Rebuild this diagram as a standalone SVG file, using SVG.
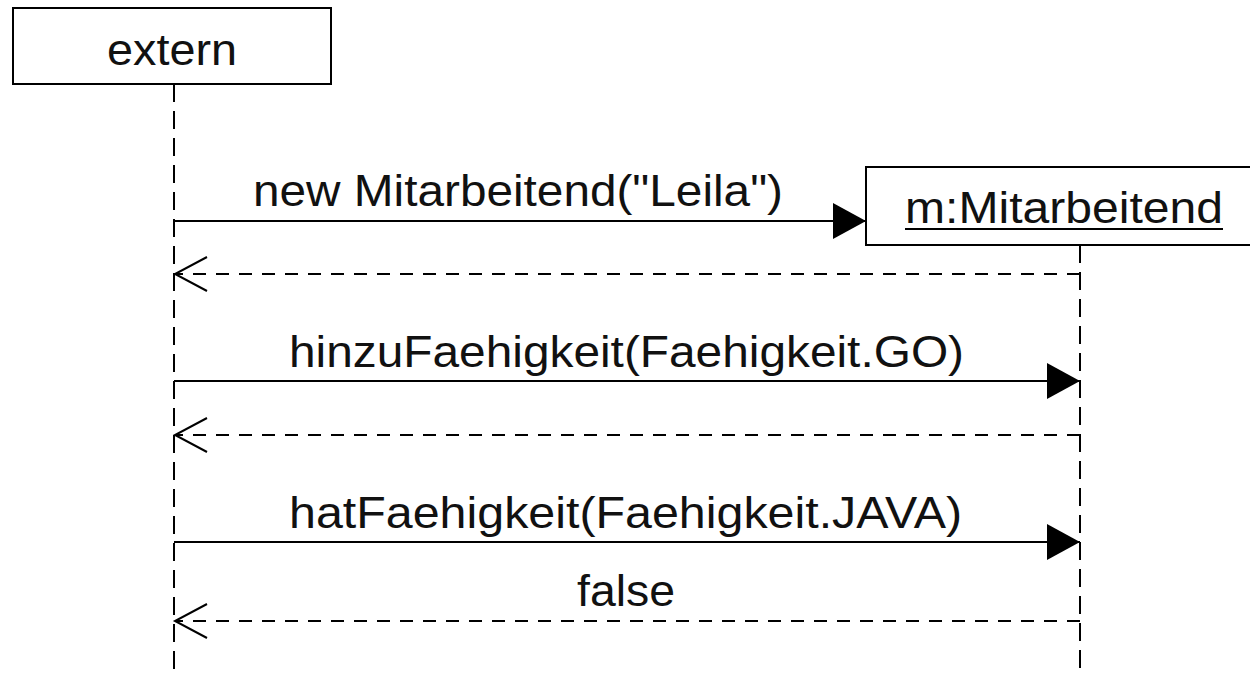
<svg xmlns="http://www.w3.org/2000/svg" width="1250" height="673" viewBox="0 0 1250 673">
<style>
.box{fill:#fff;stroke:#000;stroke-width:2}
.life{stroke:#000;stroke-width:2;stroke-dasharray:18 9;fill:none}
.msg{stroke:#000;stroke-width:2;fill:none}
.ret{stroke:#000;stroke-width:2;stroke-dasharray:13 10;fill:none}
.t{font-family:"Liberation Sans",Arial,sans-serif;font-size:44px;fill:#111}
</style>
<defs>
<marker id="filled" markerUnits="userSpaceOnUse" markerWidth="36" markerHeight="40" refX="33" refY="18" orient="auto">
<path d="M0,0 L33,18 L0,36 Z" fill="#000"/>
</marker>
<marker id="open" markerUnits="userSpaceOnUse" markerWidth="40" markerHeight="40" refX="34" refY="19" orient="auto">
<path d="M2,2 L34,19 L2,36" fill="none" stroke="#000" stroke-width="2"/>
</marker>
</defs>
<rect width="1250" height="673" fill="#fff"/>
<g id="extern">
<rect class="box" x="13" y="8" width="318" height="76"/>
<text class="t" x="172" y="65" text-anchor="middle" textLength="130" lengthAdjust="spacingAndGlyphs">extern</text>
<line class="life" x1="174" y1="84" x2="174" y2="673"/>
</g>
<g id="m">
<rect class="box" x="866" y="167" width="390" height="78"/>
<text class="t" x="905" y="223" textLength="318" lengthAdjust="spacingAndGlyphs">m:Mitarbeitend</text>
<line x1="905" y1="229" x2="1223" y2="229" stroke="#000" stroke-width="2"/>
<line class="life" x1="1080" y1="245" x2="1080" y2="673"/>
</g>
<g id="connectors">
<line class="msg" x1="174" y1="221" x2="866" y2="221" marker-end="url(#filled)"/>
<text class="t" x="253" y="206" textLength="530" lengthAdjust="spacingAndGlyphs">new Mitarbeitend("Leila")</text>
<line class="ret" x1="1080" y1="274" x2="175" y2="274" marker-end="url(#open)"/>
<line class="msg" x1="174" y1="381" x2="1080" y2="381" marker-end="url(#filled)"/>
<text class="t" x="289" y="367" textLength="675" lengthAdjust="spacingAndGlyphs">hinzuFaehigkeit(Faehigkeit.GO)</text>
<line class="ret" x1="1080" y1="435" x2="175" y2="435" marker-end="url(#open)"/>
<line class="msg" x1="174" y1="542" x2="1080" y2="542" marker-end="url(#filled)"/>
<text class="t" x="289" y="528" textLength="673" lengthAdjust="spacingAndGlyphs">hatFaehigkeit(Faehigkeit.JAVA)</text>
<line class="ret" x1="1080" y1="621" x2="175" y2="621" marker-end="url(#open)"/>
<text class="t" x="577" y="606" textLength="98" lengthAdjust="spacingAndGlyphs">false</text>
</g>
</svg>
